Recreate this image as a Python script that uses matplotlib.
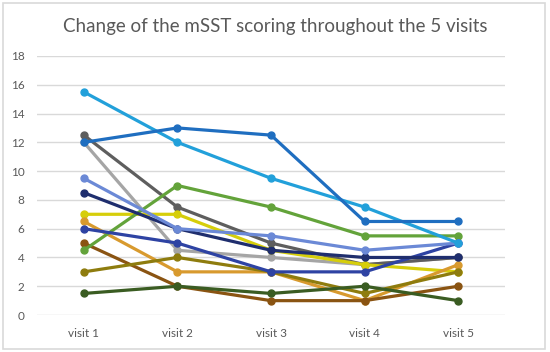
import matplotlib
matplotlib.use("Agg")
import matplotlib.pyplot as plt
from matplotlib.patches import Rectangle

plt.rcParams['font.family'] = ['Lato', 'DejaVu Sans']

visits = ["visit 1", "visit 2", "visit 3", "visit 4", "visit 5"]

s_lgray = [12, 4.5, 4, 3.5, 4]
s_dgray = [12.5, 7.5, 5, 3.5, 4]
s_yellow = [7, 7, 4.5, 3.5, 3]
s_gold = [6.5, 3, 3, 1, 3.5]
s_brown = [5, 2, 1, 1, 2]
s_olive = [3, 4, 3, 1.5, 3]
s_dkgreen = [1.5, 2, 1.5, 2, 1]
s_green = [4.5, 9, 7.5, 5.5, 5.5]
s_royal = [6, 5, 3, 3, 5]
s_navy = [8.5, 6, 4.5, 4, 4]
s_peri = [9.5, 6, 5.5, 4.5, 5]
s_cyan = [15.5, 12, 9.5, 7.5, 5]
s_blue = [12, 13, 12.5, 6.5, 6.5]

series = [
    (s_lgray, "#A5A5A5"),
    (s_dgray, "#5E5E5E"),
    (s_yellow, "#D6CE0A"),
    (s_gold, "#D89A2E"),
    (s_brown, "#8A5412"),
    (s_olive, "#8E7C0E"),
    (s_dkgreen, "#3A5C22"),
    (s_green, "#63A33A"),
    (s_royal, "#2E43A3"),
    (s_navy, "#1F2E6E"),
    (s_peri, "#6B89D6"),
    (s_cyan, "#22A0DA"),
    (s_blue, "#1F6EC0"),
]

fig = plt.figure(figsize=(5.5, 3.52), dpi=100)
fig.patches.append(Rectangle((0.006, 0.008), 0.985, 0.983, transform=fig.transFigure,
                             fill=False, edgecolor="#D9D9D9", linewidth=1.2))
ax = fig.add_axes([0.0673, 0.105, 0.851, 0.736])
x = list(range(len(visits)))
for vals, col in series:
    ax.plot(x, vals, color=col, linewidth=2.3, marker="o", markersize=5,
            markerfacecolor=col, markeredgecolor=col, solid_capstyle="round")

ax.set_xlim(-0.5, 4.5)
ax.set_ylim(0, 18)
ax.set_yticks(range(0, 19, 2))
ax.set_xticks(x)
ax.set_xticklabels(visits)
ax.grid(axis="y", color="#D9D9D9", linewidth=1.0)
ax.set_axisbelow(True)
for sp in ax.spines.values():
    sp.set_visible(False)
ax.tick_params(axis="both", length=0, labelsize=8.5, labelcolor="#595959")
ax.tick_params(axis="y", pad=9)
ax.tick_params(axis="x", pad=9)

fig.text(0.5, 0.925, "Change of the mSST scoring throughout the 5 visits",
         ha="center", va="center", fontsize=13.5, color="#595959")

fig.savefig("out.png", dpi=100)
